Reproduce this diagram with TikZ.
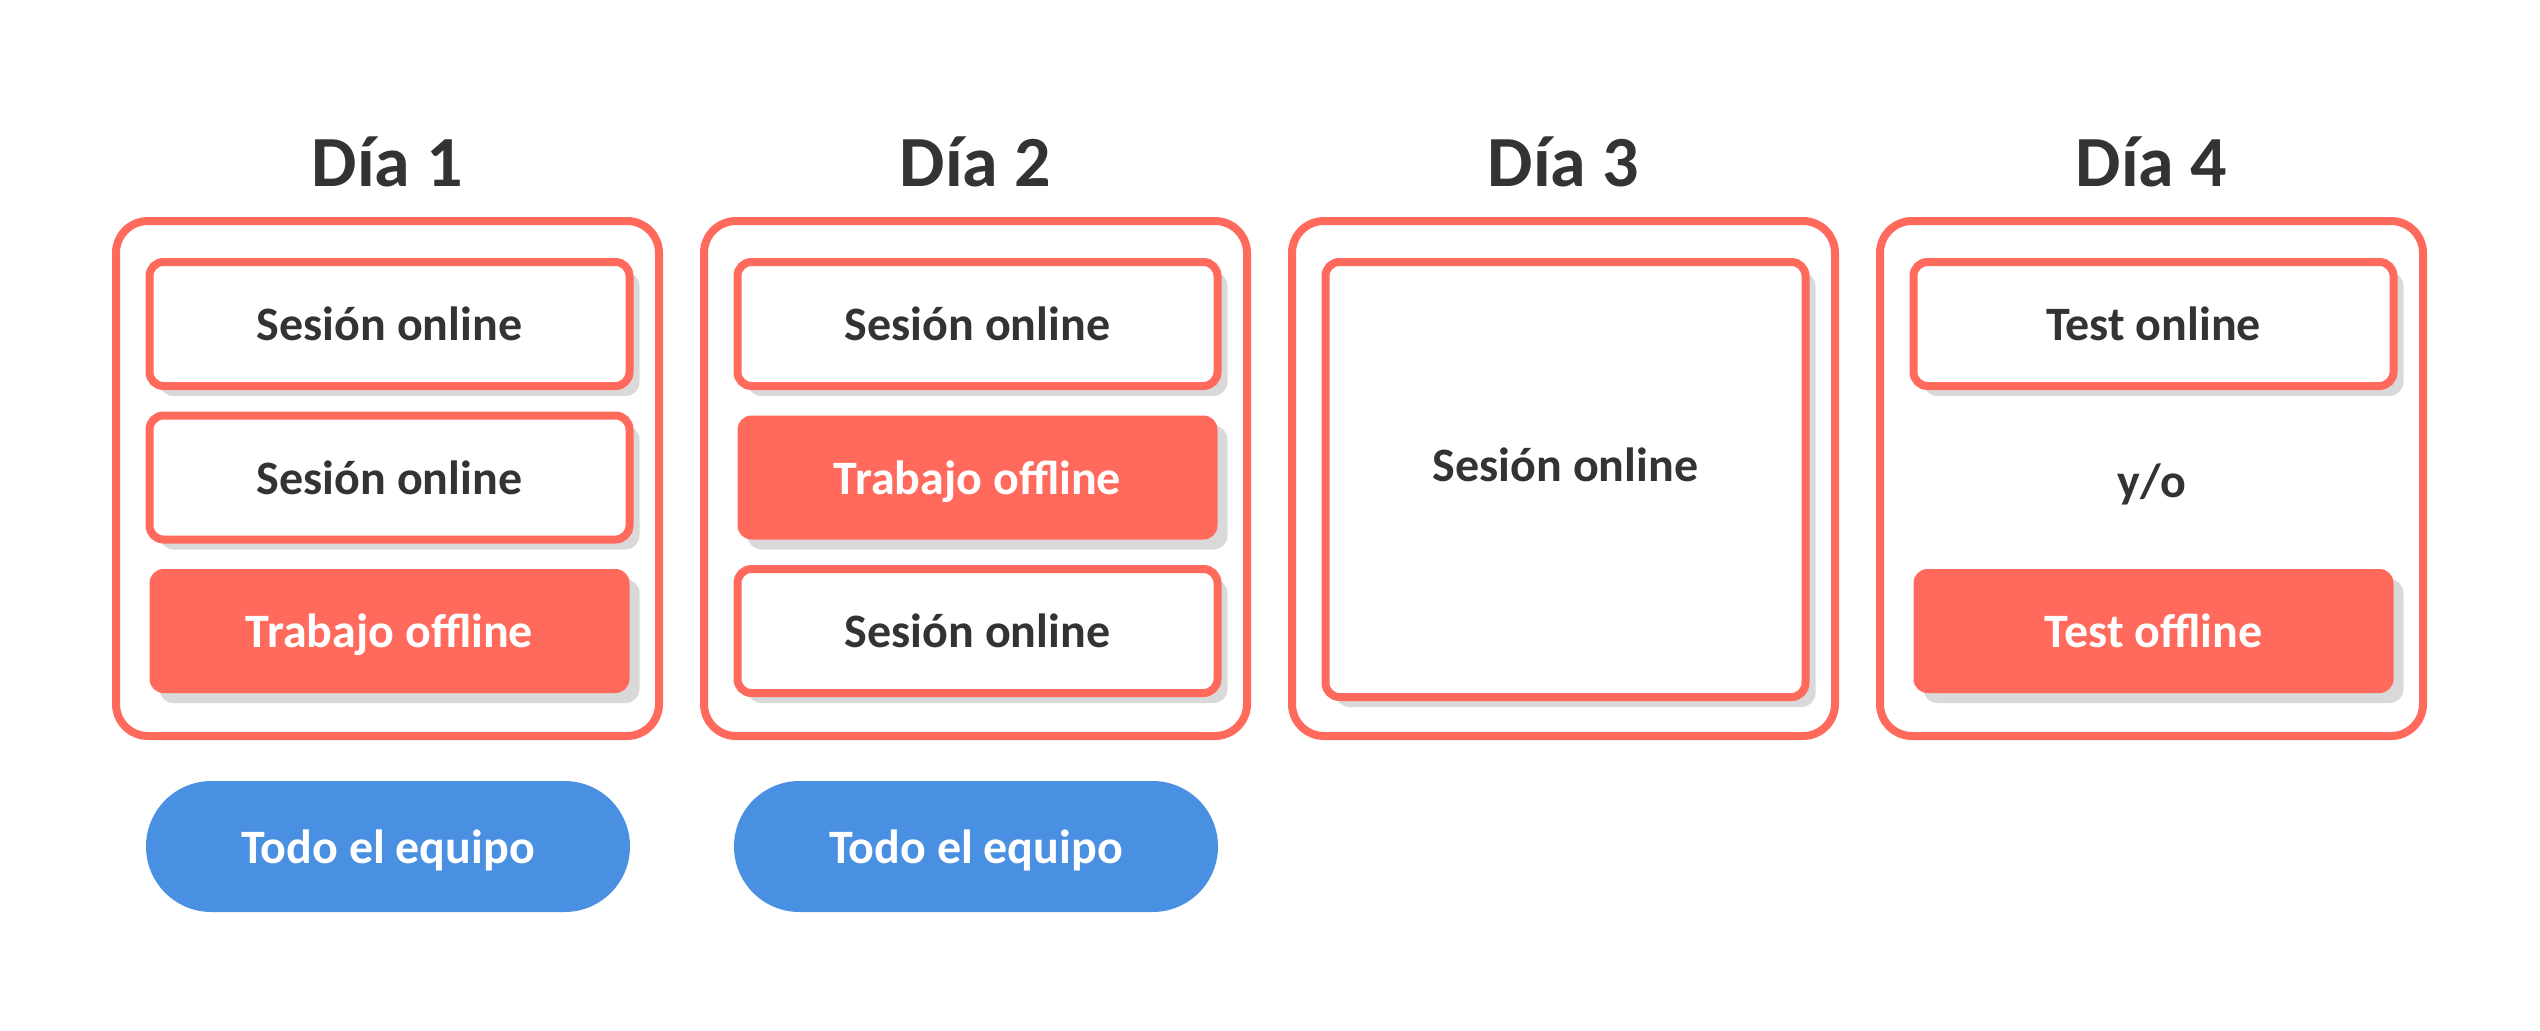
\documentclass[tikz,border=0pt]{standalone}
\usepackage{fontspec}
\setmainfont{Carlito}
\usetikzlibrary{shadows}
\definecolor{coral}{HTML}{FF6A5C}
\definecolor{teamblue}{HTML}{4A90E2}
\definecolor{ink}{HTML}{333333}
\definecolor{shade}{HTML}{D9D9D9}
\tikzset{
  daytitle/.style={font=\fontsize{36}{42}\selectfont\bfseries,text=ink},
  daybox/.style={draw=coral,line width=4pt,fill=white,rounded corners=16pt,minimum width=271.5pt,minimum height=257.5pt},
  boxtext/.style={font=\fontsize{24}{29}\selectfont\bfseries,text depth=0pt},
  boxshadow/.style={drop shadow={shadow xshift=5pt,shadow yshift=-5pt,fill=shade,opacity=1}},
  onlinebox/.style={boxtext,boxshadow,draw=coral,line width=4pt,fill=white,text=ink,rounded corners=7pt,minimum width=240pt,minimum height=62pt},
  offlinebox/.style={boxtext,boxshadow,fill=coral,text=white,rounded corners=7pt,minimum width=240pt,minimum height=62pt},
  teampill/.style={boxtext,fill=teamblue,text=white,rounded corners=32.75pt,minimum width=242pt,minimum height=65.5pt}
}
\begin{document}
\begin{tikzpicture}[x=0.5pt,y=-0.5pt]
  \useasboundingbox (0,0) rectangle (2540,1030);
  \node[daytitle](t1)at(387.5,162){Día 1};
  \node[daytitle](t2)at(975.5,162){Día 2};
  \node[daytitle](t3)at(1563.5,162){Día 3};
  \node[daytitle](t4)at(2151.5,162){Día 4};
  \node[daybox](dia1)at(387.5,478.5){};
  \node[daybox](dia2)at(975.5,478.5){};
  \node[daybox](dia3)at(1563.5,478.5){};
  \node[daybox](dia4)at(2151.5,478.5){};
  \node[onlinebox](a1)at(389.5,324){Sesión online};
  \node[onlinebox](a2)at(389.5,477.5){Sesión online};
  \node[offlinebox](a3)at(389.5,631){Trabajo offline};
  \node[onlinebox](b1)at(977.5,324){Sesión online};
  \node[offlinebox](b2)at(977.5,477.5){Trabajo offline};
  \node[onlinebox](b3)at(977.5,631){Sesión online};
  \node[onlinebox,minimum height=217.5pt](c1)at(1565.5,479.5){};
  \node[boxtext,text=ink](c2)at(1565.5,465){Sesión online};
  \node[onlinebox](d1)at(2153.5,324){Test online};
  \node[boxtext,text=ink](d2)at(2152,481){y/o};
  \node[offlinebox](d3)at(2153.5,631){Test offline};
  \node[teampill](e1)at(388,846.5){Todo el equipo};
  \node[teampill](e2)at(976,846.5){Todo el equipo};
\end{tikzpicture}
\end{document}
